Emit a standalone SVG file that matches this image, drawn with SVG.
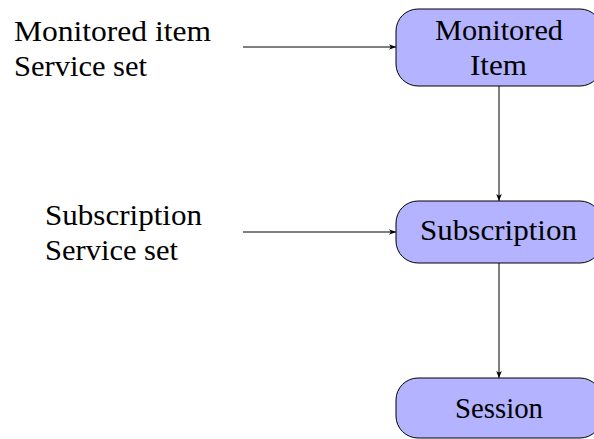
<svg xmlns="http://www.w3.org/2000/svg" width="594" height="439" viewBox="0 0 594 439">
<style>
text{font-family:"Liberation Serif","Times New Roman",serif;font-size:29px;fill:#000}
.node rect{fill:#b3b3ff;stroke:#000;stroke-width:1}
.c line{stroke:#000;stroke-width:1;marker-end:url(#ah)}
</style>
<defs>
<marker id="ah" viewBox="0 0 10 8" refX="10" refY="4" markerWidth="7" markerHeight="6" markerUnits="userSpaceOnUse" orient="auto">
<path d="M0,0 L10,4 L0,8 L2.5,4 Z" fill="#000"/>
</marker>
</defs>
<g id="label-monitored">
<text x="14" y="41" textLength="197" lengthAdjust="spacingAndGlyphs">Monitored item</text>
<text x="14" y="76" textLength="133" lengthAdjust="spacingAndGlyphs">Service set</text>
</g>
<g id="label-subscription">
<text x="45" y="225" textLength="157" lengthAdjust="spacingAndGlyphs">Subscription</text>
<text x="45" y="260" textLength="133" lengthAdjust="spacingAndGlyphs">Service set</text>
</g>
<g id="node-monitored" class="node">
<rect x="396" y="9" width="206" height="77" rx="22"/>
<text x="435" y="40" textLength="128" lengthAdjust="spacingAndGlyphs">Monitored</text>
<text x="470" y="75" textLength="57" lengthAdjust="spacingAndGlyphs">Item</text>
</g>
<g id="node-subscription" class="node">
<rect x="396" y="201" width="206" height="62" rx="22"/>
<text x="420" y="240" textLength="157" lengthAdjust="spacingAndGlyphs">Subscription</text>
</g>
<g id="node-session" class="node">
<rect x="396" y="378" width="206" height="60" rx="22"/>
<text x="455" y="418" textLength="88" lengthAdjust="spacingAndGlyphs">Session</text>
</g>
<g id="connectors" class="c">
<line x1="243" y1="47" x2="396" y2="47"/>
<line x1="243" y1="232" x2="396" y2="232"/>
<line x1="499" y1="86" x2="499" y2="201"/>
<line x1="499" y1="263" x2="499" y2="378"/>
</g>
</svg>
